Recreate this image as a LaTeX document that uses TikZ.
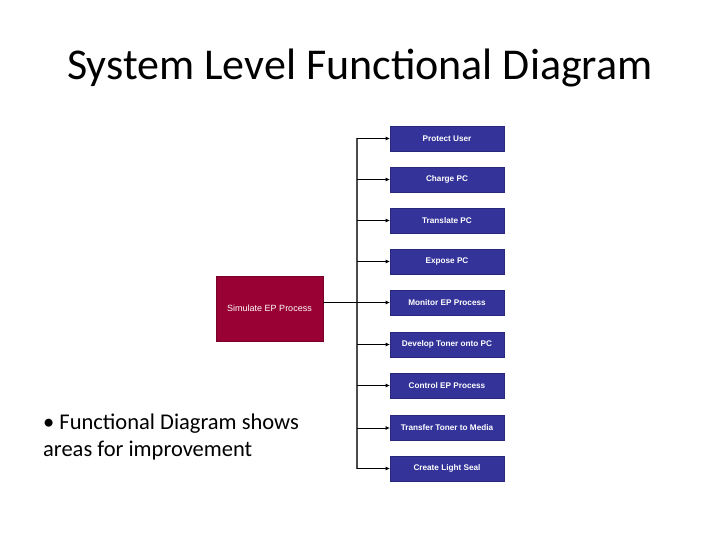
\documentclass[tikz,border=0pt]{standalone}
\usepackage{fontspec}
\setmainfont{Carlito}
\newfontfamily\boxfont{Liberation Sans}
\usetikzlibrary{arrows.meta}
\definecolor{fblue}{HTML}{333399}
\definecolor{fred}{HTML}{990033}
\tikzset{
  fbox/.style={draw=fblue!80!black, line width=0.8pt, fill=fblue, text=white, minimum width=114pt, minimum height=25pt, inner sep=0pt, font=\boxfont\bfseries\fontsize{8.2}{10}\selectfont},
  conn/.style={draw=black, line width=0.8pt, -{Triangle[length=4pt,width=3.5pt]}},
  trunk/.style={draw=black!70, line width=1.2pt}
}
\begin{document}
\begin{tikzpicture}[x=1pt,y=-1pt]
\useasboundingbox (0,0) rectangle (720,540);
\node[font=\fontsize{44}{52}\selectfont] (title) at (360,68) {System Level Functional Diagram};
\node[fill=fred, draw=fred!80!black, text=white, minimum width=107pt, minimum height=65pt, inner sep=0pt, font=\boxfont\fontsize{9}{11}\selectfont] (sim) at (269.5,308.5) {Simulate EP Process};
\node[fbox] (b1) at (447,138.5) {Protect User};
\node[fbox] (b2) at (447,179.5) {Charge PC};
\node[fbox] (b3) at (447,220.5) {Translate PC};
\node[fbox] (b4) at (447,261.5) {Expose PC};
\node[fbox] (b5) at (447,302.5) {Monitor EP Process};
\node[fbox] (b6) at (447,344.5) {Develop Toner onto PC};
\node[fbox] (b7) at (447,385.5) {Control EP Process};
\node[fbox] (b8) at (447,428) {Transfer Toner to Media};
\node[fbox] (b9) at (447,468.5) {Create Light Seal};
\coordinate (top) at (357,138.5);
\coordinate (bot) at (357,468.5);
\draw[trunk] (top) -- (bot);
\draw[line width=0.8pt] (sim.east |- b5.west) -- (357,302.5);
\foreach \i in {1,...,9} {
  \draw[conn] (top |- b\i.west) -- (b\i.west);
}
\node[anchor=north west, align=left, font=\fontsize{22.5}{27}\selectfont, inner sep=0pt] (txt) at (43,414) {\textbullet\ Functional Diagram shows\\areas for improvement};
\end{tikzpicture}
\end{document}
